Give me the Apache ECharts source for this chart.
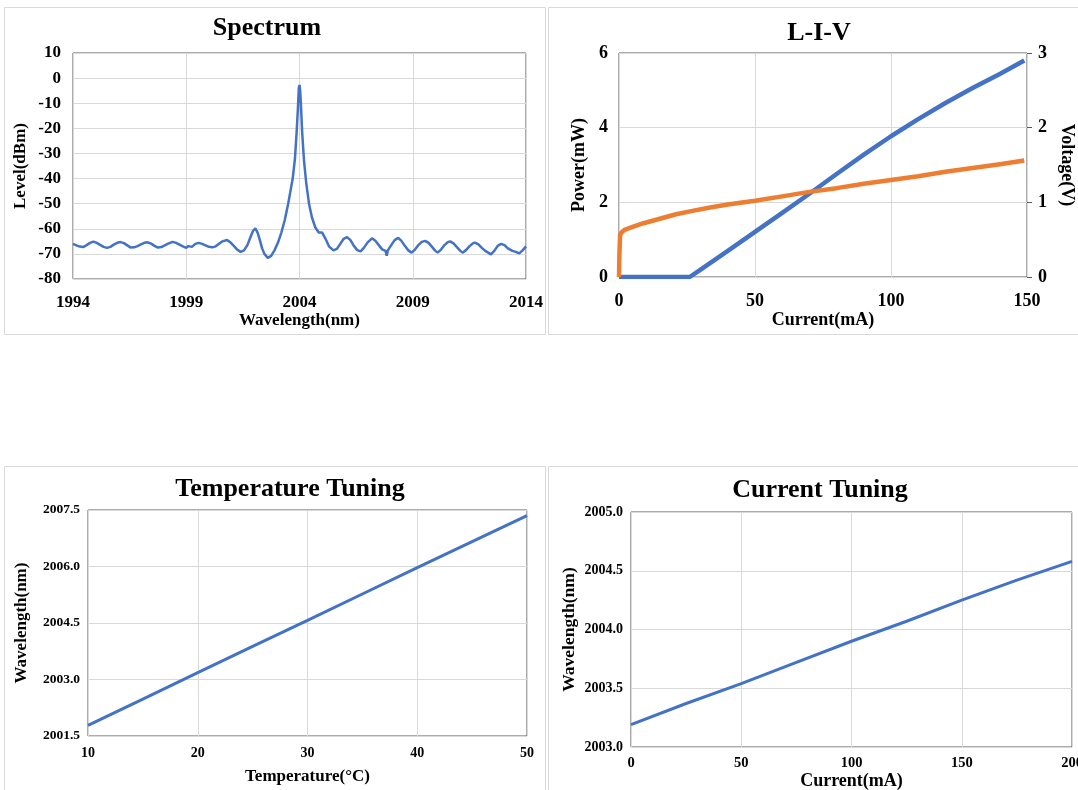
<!DOCTYPE html>
<html>
<head>
<meta charset="utf-8">
<title>Laser characterisation</title>
<script src="https://cdn.jsdelivr.net/npm/echarts@6/dist/echarts.min.js"></script>
<style>
  html, body { margin: 0; padding: 0; background: #fff; }
  #main { width: 1078px; height: 790px; }
</style>
</head>
<body>
<div id="main"></div>
<script>
// spectrum
var specWl = [1994.0, 1994.15, 1994.3, 1994.45, 1994.6, 1994.75, 1994.9, 1995.05, 1995.2, 1995.35,
  1995.5, 1995.65, 1995.8, 1995.95, 1996.1, 1996.25, 1996.4, 1996.55, 1996.7, 1996.85,
  1997.0, 1997.15, 1997.3, 1997.45, 1997.6, 1997.75, 1997.9, 1998.05, 1998.2, 1998.4,
  1998.55, 1998.7, 1998.85, 1999.0, 1999.1, 1999.25, 1999.4, 1999.55, 1999.7, 1999.85,
  2000.0, 2000.15, 2000.3, 2000.45, 2000.6, 2000.8, 2000.95, 2001.1, 2001.25, 2001.4,
  2001.55, 2001.7, 2001.85, 2001.95, 2002.05, 2002.15, 2002.25, 2002.35, 2002.45, 2002.6,
  2002.75, 2002.9, 2003.05, 2003.2, 2003.35, 2003.5, 2003.6, 2003.7, 2003.8, 2003.87,
  2003.93, 2003.97, 2004.0, 2004.03, 2004.07, 2004.12, 2004.2, 2004.3, 2004.42, 2004.55,
  2004.7, 2004.85, 2005.0, 2005.15, 2005.3, 2005.5, 2005.65, 2005.8, 2005.95, 2006.1,
  2006.25, 2006.4, 2006.55, 2006.7, 2006.85, 2007.0, 2007.2, 2007.35, 2007.5, 2007.65,
  2007.8, 2007.85, 2007.9, 2008.05, 2008.2, 2008.36, 2008.5, 2008.65, 2008.8, 2008.95,
  2009.1, 2009.25, 2009.4, 2009.55, 2009.7, 2009.85, 2010.0, 2010.1, 2010.25, 2010.4,
  2010.55, 2010.65, 2010.8, 2010.95, 2011.1, 2011.2, 2011.35, 2011.5, 2011.65, 2011.75,
  2011.9, 2012.05, 2012.2, 2012.35, 2012.45, 2012.6, 2012.75, 2012.9, 2013.05, 2013.2,
  2013.4, 2013.55, 2013.7, 2013.85, 2014.0];
var specLevel = [-66.0, -66.6, -67.1, -67.3, -66.5, -65.6, -65.1, -65.6, -66.4, -67.2,
  -67.6, -67.2, -66.3, -65.6, -65.3, -65.7, -66.6, -67.5, -67.4, -66.9,
  -66.2, -65.6, -65.4, -65.9, -66.8, -67.5, -67.3, -66.6, -65.9, -65.2,
  -65.6, -66.3, -67.0, -67.6, -66.9, -67.2, -66.0, -65.6, -66.0, -66.6,
  -67.2, -67.4, -67.0, -66.0, -65.0, -64.5, -65.4, -66.8, -68.3, -69.2,
  -68.6, -66.5, -63.0, -60.8, -59.8, -61.5, -64.5, -67.8, -70.0, -71.6,
  -70.8, -68.5, -65.5, -61.5, -56.5, -50.0, -45.0, -40.0, -32.0, -22.0,
  -12.0, -4.0, -2.7, -5.0, -12.0, -22.0, -33.0, -42.0, -50.0, -55.5,
  -59.5, -61.5, -61.5, -64.0, -67.0, -68.6, -68.0, -66.0, -64.0, -63.3,
  -64.5, -66.8, -68.5, -69.0, -67.5, -65.5, -63.8, -64.8, -66.5, -68.2,
  -68.8, -70.7, -68.6, -66.5, -64.5, -63.6, -64.8, -66.8, -68.6, -69.5,
  -68.3, -66.5, -65.2, -64.8, -65.6, -67.2, -68.8, -69.5, -68.3, -66.5,
  -65.3, -65.0, -65.8, -67.3, -68.8, -69.5, -68.5, -67.0, -65.8, -65.5,
  -66.2, -67.6, -68.8, -69.6, -70.2, -68.8, -66.8, -66.0, -66.5, -67.8,
  -68.8, -69.2, -69.8, -68.6, -67.0];

// L-I-V
var livCurrent = [0, 10, 20, 26, 30, 40, 50, 60, 70, 80, 90, 100, 110, 120, 130, 140, 149];
var livPower = [0, 0, 0, 0, 0.2, 0.7, 1.21, 1.72, 2.23, 2.76, 3.28, 3.77, 4.23, 4.66, 5.06, 5.44, 5.8];
var vCurrent = [0, 0.15, 0.4, 1, 2, 5, 9, 15, 21, 27, 33.5, 40, 50, 60, 70, 80, 90, 100, 110, 120, 130, 140, 149];
var livVoltage = [0, 0.3, 0.56, 0.6, 0.63, 0.67, 0.72, 0.78, 0.84, 0.885, 0.93, 0.97, 1.02, 1.08, 1.14, 1.19, 1.25, 1.3, 1.35, 1.41, 1.46, 1.51, 1.56];

// temperature tuning
var tempC = [10, 15, 20, 25, 30, 35, 40, 45, 50];
var tempWl = [2001.78, 2002.48, 2003.18, 2003.88, 2004.57, 2005.27, 2005.97, 2006.66, 2007.35];

// current tuning
var tuneCurrent = [0, 25, 50, 75, 100, 125, 150, 175, 200];
var tuneWl = [2003.19, 2003.37, 2003.54, 2003.72, 2003.90, 2004.07, 2004.25, 2004.42, 2004.58];

function pairs(xs, ys) {
  return xs.map(function (x, i) { return [x, ys[i]]; });
}

var FONT = '"Liberation Serif", "Times New Roman", serif';
var BLUE = '#4472C4';
var ORANGE = '#ED7D31';
var gridLine = { show: true, lineStyle: { color: '#d9d9d9', width: 1 } };

function lbl(size, margin, fmt) {
  var l = { fontFamily: FONT, fontWeight: 'bold', fontSize: size, color: '#000', margin: margin };
  if (fmt) l.formatter = fmt;
  return l;
}

function nameStyle(size) {
  return { fontFamily: FONT, fontWeight: 'bold', fontSize: size, color: '#000' };
}

function valAxis(o) {
  var a = {
    type: 'value',
    nameLocation: 'middle',
    axisLine: { show: false },
    axisTick: { show: false },
    splitLine: gridLine
  };
  for (var k in o) a[k] = o[k];
  return a;
}

function plotGrid(left, top, width, height) {
  return { left: left, top: top, width: width, height: height, show: true,
    borderColor: '#595959', borderWidth: 1, outerBoundsMode: 'none', containLabel: false };
}

function panelBox(x, y, w, h) {
  return { type: 'rect', shape: { x: x, y: y, width: w, height: h }, style: { fill: null, stroke: '#d9d9d9', lineWidth: 1 }, silent: true };
}

function titleText(text, x, y) {
  return { type: 'text', x: x, y: y, style: { text: text, font: 'bold 26px ' + FONT, fill: '#000', align: 'center' } };
}

var plain = function (v) { return String(v); };
var oneDec = function (v) { return v.toFixed(1); };

var myChart = echarts.init(document.getElementById('main'));

var option = {
  backgroundColor: '#fff',
  animation: false,
  graphic: [
    panelBox(4.5, 7.5, 541, 327),
    panelBox(548.5, 7.5, 540, 327),
    panelBox(4.5, 466.5, 541, 330),
    panelBox(548.5, 466.5, 540, 330),
    titleText('Spectrum', 267, 15),
    titleText('L-I-V', 819, 20),
    titleText('Temperature Tuning', 290, 476),
    titleText('Current Tuning', 820, 477)
  ],
  grid: [
    plotGrid(73, 53, 453, 226),
    plotGrid(619, 53, 408, 224),
    plotGrid(88, 510, 439, 226),
    plotGrid(631, 512, 441, 235)
  ],
  xAxis: [
    valAxis({ gridIndex: 0, min: 1994, max: 2014, interval: 5, name: 'Wavelength(nm)', nameGap: 32,
      nameTextStyle: nameStyle(17), axisLabel: lbl(17, 15, plain) }),
    valAxis({ gridIndex: 1, min: 0, max: 150, interval: 50, name: 'Current(mA)', nameGap: 32,
      nameTextStyle: nameStyle(18), axisLabel: lbl(18, 15) }),
    valAxis({ gridIndex: 2, min: 10, max: 50, interval: 10, name: 'Temperature(°C)', nameGap: 32,
      nameTextStyle: nameStyle(17), axisLabel: lbl(14, 10) }),
    valAxis({ gridIndex: 3, min: 0, max: 200, interval: 50, name: 'Current(mA)', nameGap: 21,
      nameTextStyle: nameStyle(18), axisLabel: lbl(14.5, 9) })
  ],
  yAxis: [
    valAxis({ gridIndex: 0, min: -80, max: 10, interval: 10, name: 'Level(dBm)', nameGap: 44,
      nameTextStyle: nameStyle(17), axisLabel: lbl(17, 12) }),
    valAxis({ gridIndex: 1, min: 0, max: 6, interval: 2, name: 'Power(mW)', nameGap: 31,
      nameTextStyle: nameStyle(18), axisLabel: lbl(18, 11) }),
    valAxis({ gridIndex: 1, min: 0, max: 3, interval: 1, position: 'right', name: 'Voltage(V)', nameGap: 31, nameRotate: -90,
      nameTextStyle: nameStyle(18), splitLine: { show: false },
      axisTick: { show: true, inside: false, length: 5, lineStyle: { color: '#595959' } },
      axisLabel: lbl(18, 11) }),
    valAxis({ gridIndex: 2, min: 2001.5, max: 2007.5, interval: 1.5, name: 'Wavelength(nm)', nameGap: 58,
      nameTextStyle: nameStyle(17), axisLabel: lbl(13.5, 8, oneDec) }),
    valAxis({ gridIndex: 3, min: 2003, max: 2005, interval: 0.5, name: 'Wavelength(nm)', nameGap: 53,
      nameTextStyle: nameStyle(17.5), axisLabel: lbl(14, 8, oneDec) })
  ],
  series: [
    { name: 'Spectrum', type: 'line', xAxisIndex: 0, yAxisIndex: 0, symbol: 'none',
      lineStyle: { color: BLUE, width: 2.5 }, data: pairs(specWl, specLevel) },
    { name: 'Power', type: 'line', xAxisIndex: 1, yAxisIndex: 1, symbol: 'none',
      lineStyle: { color: BLUE, width: 4.5, join: 'round' }, data: pairs(livCurrent, livPower) },
    { name: 'Voltage', type: 'line', xAxisIndex: 1, yAxisIndex: 2, symbol: 'none',
      lineStyle: { color: ORANGE, width: 4.5, join: 'round' }, data: pairs(vCurrent, livVoltage) },
    { name: 'Temperature', type: 'line', xAxisIndex: 2, yAxisIndex: 3, symbol: 'none',
      lineStyle: { color: BLUE, width: 3 }, data: pairs(tempC, tempWl) },
    { name: 'Current', type: 'line', xAxisIndex: 3, yAxisIndex: 4, symbol: 'none',
      lineStyle: { color: BLUE, width: 3 }, data: pairs(tuneCurrent, tuneWl) }
  ]
};

myChart.setOption(option);
</script>
</body>
</html>
